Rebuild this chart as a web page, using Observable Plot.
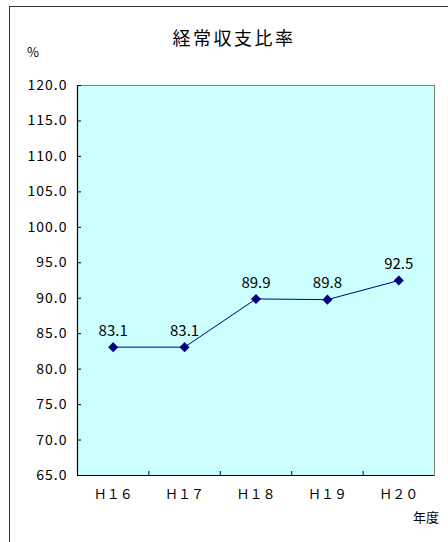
<!DOCTYPE html>
<html>
<head>
<meta charset="utf-8">
<script src="https://cdn.jsdelivr.net/npm/d3@7"></script>
<script src="https://cdn.jsdelivr.net/npm/@observablehq/plot@0.6"></script>
<style>
  html, body { margin: 0; padding: 0; background: #fff; overflow: hidden; }
  #wrap { position: relative; width: 448px; height: 542px; overflow: hidden; font-family: "Noto Sans CJK JP", "Noto Sans", sans-serif; color: #000; }
  #border { position: absolute; left: 9px; top: 6px; width: 500px; height: 600px; border-left: 1.5px solid #333; border-top: 1.5px solid #333; box-sizing: border-box; }
  #chart { position: absolute; left: 0; top: 0; }
  .lbl { position: absolute; white-space: nowrap; line-height: 1; }
  #title { left: 0; width: 468px; top: 28px; text-align: center; font-size: 18px; letter-spacing: 2.5px; }
  #pct { left: 27px; top: 45px; font-size: 13px; }
  #nendo { left: 413px; top: 510px; font-size: 13px; }
</style>
</head>
<body>
<div id="wrap">
  <div id="border"></div>
  <div id="chart"></div>
  <div class="lbl" id="title">経常収支比率</div>
  <div class="lbl" id="pct">%</div>
  <div class="lbl" id="nendo">年度</div>
</div>
<script>
const categories = ["Ｈ１６", "Ｈ１７", "Ｈ１８", "Ｈ１９", "Ｈ２０"];
const values = [83.1, 83.1, 89.9, 89.8, 92.5];
const yTicks = [65, 70, 75, 80, 85, 90, 95, 100, 105, 110, 115, 120];
const xBounds = [0.5, 1.5, 2.5, 3.5];

const data = categories.map((c, i) => ({i, c, v: values[i]}));

const W = 448, H = 542, mL = 77, mT = 85, mR = 14, mB = 67;
const innerW = W - mL - mR, innerH = H - mT - mB;

const chart = Plot.plot({
  width: W,
  height: H,
  marginLeft: mL,
  marginTop: mT,
  marginRight: mR,
  marginBottom: mB,
  style: { fontFamily: '"Noto Sans CJK JP", "Noto Sans", sans-serif', fontSize: "14px", color: "#000", background: "transparent" },
  x: { domain: [-0.5, 4.5], ticks: [0, 1, 2, 3, 4], tickFormat: i => categories[i], tickSize: 0, tickPadding: 14, label: null },
  y: { domain: [65, 120], ticks: yTicks, tickFormat: d => d.toFixed(1), tickSize: 0, tickPadding: 10, label: null },
  marks: [
    Plot.frame({ fill: "#CCFFFF", stroke: "#808080", strokeWidth: 1 }),
    Plot.tickY(yTicks, { y: d => d, stroke: "#000", insetRight: innerW - 4 }),
    Plot.tickX(xBounds, { x: d => d, stroke: "#000", insetTop: innerH - 4 }),
    Plot.ruleX([-0.5], { stroke: "#000", strokeWidth: 1.2 }),
    Plot.ruleY([65], { stroke: "#000", strokeWidth: 1.2 }),
    Plot.line(data, { x: "i", y: "v", stroke: "#000080", strokeWidth: 1 }),
    Plot.dot(data, { x: "i", y: "v", symbol: "diamond2", r: 3.6, fill: "#000080", stroke: "#000080" }),
    Plot.text(data, { x: "i", y: "v", text: d => d.v.toFixed(1), dy: -16, fontSize: 15, fill: "#000" })
  ]
});
document.getElementById("chart").appendChild(chart);
chart.querySelectorAll("text").forEach(t => {
  const p = t.closest("g[aria-label]");
  const lab = p ? p.getAttribute("aria-label") : "";
  if (lab.startsWith("y-axis")) t.style.letterSpacing = "1px";
  if (lab.startsWith("x-axis")) t.setAttribute("font-size", "13");
});
</script>
</body>
</html>
